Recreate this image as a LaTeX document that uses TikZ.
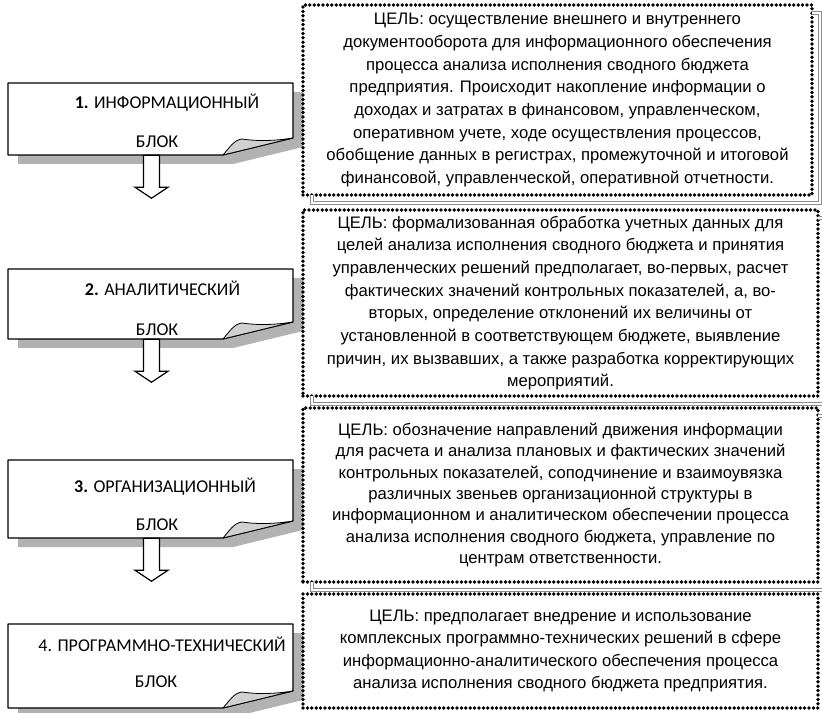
\documentclass[tikz,border=0pt]{standalone}
\usepackage{fontspec}
\setmainfont{Liberation Sans}
\newfontfamily\blockfont{Carlito}
\usepackage{tikz}
\usetikzlibrary{calc}
\usetikzlibrary{decorations.markings}

\tikzset{
  page/.style={draw=black, fill=white, line width=0.8pt, line join=round},
  pageshadow/.style={fill=black!30},
  pagefold/.style={draw=black, fill=black!18, line width=0.6pt, line join=round},
  pageframe/.style={inner sep=0pt, minimum width=213.75pt},
  blocktext/.style={font=\blockfont\fontsize{13.5}{16}\selectfont, inner sep=0pt},
  blockarrow/.style={draw=black, fill=white, line width=0.9pt, line join=miter},
  goalbox/.style={fill=white, align=center, inner sep=0pt, postaction={decorate},
    decoration={markings, mark=between positions 0 and 1 step 3.3pt with {\fill[black] (0,0) circle (1.4pt);}}},
  goalshadow/.style={draw=black!45, double=white, double distance=1.5pt, line width=0.75pt}
}

\begin{document}
\begin{tikzpicture}[x=0.75pt, y=-0.75pt]
\useasboundingbox (0,0) rectangle (822,713);
\foreach \n/\t/\b in {1/83/155, 2/269/339, 3/460/538, 4/624/708} {
  \fill[pageshadow] (18,\t+9) -- (303,\t+9) -- (303,\b-8) -- (233,\b+9) -- (18,\b+9) -- cycle;
  \draw[page] (8,\t) -- (293,\t) -- (293,\b-17) -- (223,\b) -- (8,\b) -- cycle;
  \draw[pagefold] (223,\b) .. controls (230,\b-8) and (234,\b-15) .. (242,\b-16)
    .. controls (262,\b-13) and (280,\b-15) .. (293,\b-17) -- cycle;
  \node[pageframe, minimum height={(\b-\t)*0.75pt}] (blk\n) at (150.5,{(\t+\b)/2}) {};
}
\node[blocktext] (blk1 name) at (167,103) {\textbf{1.} ИНФОРМАЦИОННЫЙ};
\node[blocktext] (blk1 tag) at (157,142) {БЛОК};
\node[blocktext] (blk2 name) at (162.5,288) {\textbf{2.} АНАЛИТИЧЕСКИЙ};
\node[blocktext] (blk2 tag) at (157,330) {БЛОК};
\node[blocktext] (blk3 name) at (165,487) {\textbf{3.} ОРГАНИЗАЦИОННЫЙ};
\node[blocktext] (blk3 tag) at (157,525) {БЛОК};
\node[blocktext] (blk4 name) at (162,644) {4. ПРОГРАММНО-ТЕХНИЧЕСКИЙ};
\node[blocktext] (blk4 tag) at (156,682) {БЛОК};
\foreach \n in {1,2,3}
  \draw[blockarrow] ([xshift=-5.25pt]blk\n.south) -- ++(0,32) -- ++(-8.5,0) -- ++(16.5,11)
    -- ++(16.5,-11) -- ++(-8.5,0) -- ++(0,-32) -- cycle;

\node[goalbox, minimum width=381.75pt, minimum height=142.5pt, font=\fontsize{12.5}{17}\selectfont]
  (goal1) at (557.5,100) {ЦЕЛЬ: осуществление внешнего и внутреннего\\
  документооборота для информационного обеспечения\\
  процесса анализа исполнения сводного бюджета\\
  предприятия. Происходит накопление информации о\\
  доходах и затратах в финансовом, управленческом,\\
  оперативном учете, ходе осуществления процессов,\\
  обобщение данных в регистрах, промежуточной и итоговой\\
  финансовой, управленческой, оперативной отчетности.};
\node[goalbox, minimum width=386.25pt, minimum height=139.5pt, font=\fontsize{12.5}{17}\selectfont]
  (goal2) at (560.5,303) {ЦЕЛЬ: формализованная обработка учетных данных для\\
  целей анализа исполнения сводного бюджета и принятия\\
  управленческих решений предполагает, во-первых, расчет\\
  фактических значений контрольных показателей, а, во-\\
  вторых, определение отклонений их величины от\\
  установленной в соответствующем бюджете, выявление\\
  причин, их вызвавших, а также разработка корректирующих\\
  мероприятий.};
\node[goalbox, minimum width=386.25pt, minimum height=130.5pt, font=\fontsize{12.5}{16}\selectfont]
  (goal3) at (560.5,495) {ЦЕЛЬ: обозначение направлений движения информации\\
  для расчета и анализа плановых и фактических значений\\
  контрольных показателей, соподчинение и взаимоувязка\\
  различных звеньев организационной структуры в\\
  информационном и аналитическом обеспечении процесса\\
  анализа исполнения сводного бюджета, управление по\\
  центрам ответственности.};
\node[goalbox, minimum width=386.25pt, minimum height=85.5pt, font=\fontsize{12.5}{16.7}\selectfont]
  (goal4) at (560.5,651) {ЦЕЛЬ: предполагает внедрение и использование\\
  комплексных программно-технических решений в сфере\\
  информационно-аналитического обеспечения процесса\\
  анализа исполнения сводного бюджета предприятия.};
\foreach \g in {goal1,goal2,goal3}
  \draw[goalshadow] ([xshift=7pt]\g.south west) -- ++(0,8) -| ([shift={(6pt,-6pt)}]\g.north east) -- ++(-8,0);
\end{tikzpicture}
\end{document}
